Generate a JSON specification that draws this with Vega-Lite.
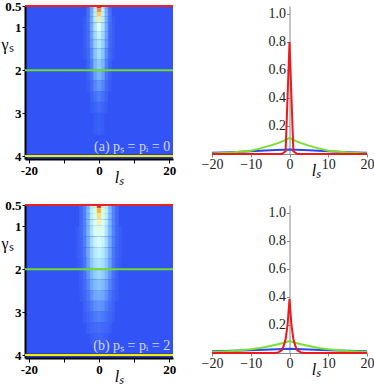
{
"$schema":"https://vega.github.io/schema/vega-lite/v6.json",
"padding":0,
"bounds":"flush",
"columns":2,
"spacing":{"row":46,"column":39},
"config":{"view":{"stroke":null},"font":"Liberation Serif","axis":{"grid":false,"labelOverlap":false,"labelBound":false}},
"resolve":{"scale":{"x":"independent","y":"independent","fill":"independent","stroke":"independent","color":"independent"}},
"datasets":{
"heatA":[
{"l0":-3.5,"l1":3.5,"g0":0.5,"g1":0.56,"v":0.12},{"l0":-2.5,"l1":2.5,"g0":0.5,"g1":0.56,"v":0.32},{"l0":-1.5,"l1":1.5,"g0":0.5,"g1":0.56,"v":0.5},{"l0":-0.5,"l1":0.5,"g0":0.5,"g1":0.56,"v":1},
{"l0":-3.5,"l1":3.5,"g0":0.56,"g1":0.65,"v":0.14},{"l0":-2.5,"l1":2.5,"g0":0.56,"g1":0.65,"v":0.32},{"l0":-1.5,"l1":1.5,"g0":0.56,"g1":0.65,"v":0.55},{"l0":-0.5,"l1":0.5,"g0":0.56,"g1":0.65,"v":0.92},
{"l0":-3.5,"l1":3.5,"g0":0.65,"g1":0.75,"v":0.14},{"l0":-2.5,"l1":2.5,"g0":0.65,"g1":0.75,"v":0.33},{"l0":-1.5,"l1":1.5,"g0":0.65,"g1":0.75,"v":0.55},{"l0":-0.5,"l1":0.5,"g0":0.65,"g1":0.75,"v":0.84},
{"l0":-4.5,"l1":4.5,"g0":0.75,"g1":0.9,"v":0.05},{"l0":-3.5,"l1":3.5,"g0":0.75,"g1":0.9,"v":0.14},{"l0":-2.5,"l1":2.5,"g0":0.75,"g1":0.9,"v":0.32},{"l0":-1.5,"l1":1.5,"g0":0.75,"g1":0.9,"v":0.54},{"l0":-0.5,"l1":0.5,"g0":0.75,"g1":0.9,"v":0.76},
{"l0":-4.5,"l1":4.5,"g0":0.9,"g1":1.1,"v":0.05},{"l0":-3.5,"l1":3.5,"g0":0.9,"g1":1.1,"v":0.13},{"l0":-2.5,"l1":2.5,"g0":0.9,"g1":1.1,"v":0.31},{"l0":-1.5,"l1":1.5,"g0":0.9,"g1":1.1,"v":0.5},{"l0":-0.5,"l1":0.5,"g0":0.9,"g1":1.1,"v":0.64},
{"l0":-4.5,"l1":4.5,"g0":1.1,"g1":1.3,"v":0.05},{"l0":-3.5,"l1":3.5,"g0":1.1,"g1":1.3,"v":0.12},{"l0":-2.5,"l1":2.5,"g0":1.1,"g1":1.3,"v":0.29},{"l0":-1.5,"l1":1.5,"g0":1.1,"g1":1.3,"v":0.46},{"l0":-0.5,"l1":0.5,"g0":1.1,"g1":1.3,"v":0.57},
{"l0":-4.5,"l1":4.5,"g0":1.3,"g1":1.5,"v":0.05},{"l0":-3.5,"l1":3.5,"g0":1.3,"g1":1.5,"v":0.12},{"l0":-2.5,"l1":2.5,"g0":1.3,"g1":1.5,"v":0.27},{"l0":-1.5,"l1":1.5,"g0":1.3,"g1":1.5,"v":0.43},{"l0":-0.5,"l1":0.5,"g0":1.3,"g1":1.5,"v":0.52},
{"l0":-4.5,"l1":4.5,"g0":1.5,"g1":1.75,"v":0.04},{"l0":-3.5,"l1":3.5,"g0":1.5,"g1":1.75,"v":0.1},{"l0":-2.5,"l1":2.5,"g0":1.5,"g1":1.75,"v":0.23},{"l0":-1.5,"l1":1.5,"g0":1.5,"g1":1.75,"v":0.39},{"l0":-0.5,"l1":0.5,"g0":1.5,"g1":1.75,"v":0.47},
{"l0":-3.5,"l1":3.5,"g0":1.75,"g1":2.0,"v":0.08},{"l0":-2.5,"l1":2.5,"g0":1.75,"g1":2.0,"v":0.19},{"l0":-1.5,"l1":1.5,"g0":1.75,"g1":2.0,"v":0.34},{"l0":-0.5,"l1":0.5,"g0":1.75,"g1":2.0,"v":0.41},
{"l0":-3.5,"l1":3.5,"g0":2.0,"g1":2.25,"v":0.06},{"l0":-2.5,"l1":2.5,"g0":2.0,"g1":2.25,"v":0.15},{"l0":-1.5,"l1":1.5,"g0":2.0,"g1":2.25,"v":0.28},{"l0":-0.5,"l1":0.5,"g0":2.0,"g1":2.25,"v":0.34},
{"l0":-3.5,"l1":3.5,"g0":2.25,"g1":2.5,"v":0.04},{"l0":-2.5,"l1":2.5,"g0":2.25,"g1":2.5,"v":0.11},{"l0":-1.5,"l1":1.5,"g0":2.25,"g1":2.5,"v":0.21},{"l0":-0.5,"l1":0.5,"g0":2.25,"g1":2.5,"v":0.26},
{"l0":-2.5,"l1":2.5,"g0":2.5,"g1":2.75,"v":0.07},{"l0":-1.5,"l1":1.5,"g0":2.5,"g1":2.75,"v":0.14},{"l0":-0.5,"l1":0.5,"g0":2.5,"g1":2.75,"v":0.18},
{"l0":-2.5,"l1":2.5,"g0":2.75,"g1":3.0,"v":0.04},{"l0":-1.5,"l1":1.5,"g0":2.75,"g1":3.0,"v":0.08},{"l0":-0.5,"l1":0.5,"g0":2.75,"g1":3.0,"v":0.11},
{"l0":-1.5,"l1":1.5,"g0":3.0,"g1":3.5,"v":0.04},{"l0":-0.5,"l1":0.5,"g0":3.0,"g1":3.5,"v":0.06}
],
"heatB":[
{"l0":-5.5,"l1":5.5,"g0":0.5,"g1":0.58,"v":0.1},{"l0":-4.5,"l1":4.5,"g0":0.5,"g1":0.58,"v":0.2},{"l0":-3.5,"l1":3.5,"g0":0.5,"g1":0.58,"v":0.36},{"l0":-2.5,"l1":2.5,"g0":0.5,"g1":0.58,"v":0.55},{"l0":-1.5,"l1":1.5,"g0":0.5,"g1":0.58,"v":0.72},{"l0":-0.5,"l1":0.5,"g0":0.5,"g1":0.58,"v":1},
{"l0":-5.5,"l1":5.5,"g0":0.58,"g1":0.7,"v":0.1},{"l0":-4.5,"l1":4.5,"g0":0.58,"g1":0.7,"v":0.2},{"l0":-3.5,"l1":3.5,"g0":0.58,"g1":0.7,"v":0.36},{"l0":-2.5,"l1":2.5,"g0":0.58,"g1":0.7,"v":0.55},{"l0":-1.5,"l1":1.5,"g0":0.58,"g1":0.7,"v":0.7},{"l0":-0.5,"l1":0.5,"g0":0.58,"g1":0.7,"v":0.88},
{"l0":-5.5,"l1":5.5,"g0":0.7,"g1":0.85,"v":0.1},{"l0":-4.5,"l1":4.5,"g0":0.7,"g1":0.85,"v":0.2},{"l0":-3.5,"l1":3.5,"g0":0.7,"g1":0.85,"v":0.35},{"l0":-2.5,"l1":2.5,"g0":0.7,"g1":0.85,"v":0.54},{"l0":-1.5,"l1":1.5,"g0":0.7,"g1":0.85,"v":0.69},{"l0":-0.5,"l1":0.5,"g0":0.7,"g1":0.85,"v":0.8},
{"l0":-5.5,"l1":5.5,"g0":0.85,"g1":1.0,"v":0.1},{"l0":-4.5,"l1":4.5,"g0":0.85,"g1":1.0,"v":0.2},{"l0":-3.5,"l1":3.5,"g0":0.85,"g1":1.0,"v":0.35},{"l0":-2.5,"l1":2.5,"g0":0.85,"g1":1.0,"v":0.53},{"l0":-1.5,"l1":1.5,"g0":0.85,"g1":1.0,"v":0.66},{"l0":-0.5,"l1":0.5,"g0":0.85,"g1":1.0,"v":0.74},
{"l0":-6.5,"l1":6.5,"g0":1.0,"g1":1.25,"v":0.04},{"l0":-5.5,"l1":5.5,"g0":1.0,"g1":1.25,"v":0.1},{"l0":-4.5,"l1":4.5,"g0":1.0,"g1":1.25,"v":0.2},{"l0":-3.5,"l1":3.5,"g0":1.0,"g1":1.25,"v":0.34},{"l0":-2.5,"l1":2.5,"g0":1.0,"g1":1.25,"v":0.5},{"l0":-1.5,"l1":1.5,"g0":1.0,"g1":1.25,"v":0.62},{"l0":-0.5,"l1":0.5,"g0":1.0,"g1":1.25,"v":0.68},
{"l0":-6.5,"l1":6.5,"g0":1.25,"g1":1.5,"v":0.04},{"l0":-5.5,"l1":5.5,"g0":1.25,"g1":1.5,"v":0.09},{"l0":-4.5,"l1":4.5,"g0":1.25,"g1":1.5,"v":0.19},{"l0":-3.5,"l1":3.5,"g0":1.25,"g1":1.5,"v":0.32},{"l0":-2.5,"l1":2.5,"g0":1.25,"g1":1.5,"v":0.47},{"l0":-1.5,"l1":1.5,"g0":1.25,"g1":1.5,"v":0.57},{"l0":-0.5,"l1":0.5,"g0":1.25,"g1":1.5,"v":0.62},
{"l0":-6.5,"l1":6.5,"g0":1.5,"g1":1.75,"v":0.04},{"l0":-5.5,"l1":5.5,"g0":1.5,"g1":1.75,"v":0.08},{"l0":-4.5,"l1":4.5,"g0":1.5,"g1":1.75,"v":0.17},{"l0":-3.5,"l1":3.5,"g0":1.5,"g1":1.75,"v":0.3},{"l0":-2.5,"l1":2.5,"g0":1.5,"g1":1.75,"v":0.43},{"l0":-1.5,"l1":1.5,"g0":1.5,"g1":1.75,"v":0.52},{"l0":-0.5,"l1":0.5,"g0":1.5,"g1":1.75,"v":0.56},
{"l0":-6.5,"l1":6.5,"g0":1.75,"g1":2.0,"v":0.03},{"l0":-5.5,"l1":5.5,"g0":1.75,"g1":2.0,"v":0.07},{"l0":-4.5,"l1":4.5,"g0":1.75,"g1":2.0,"v":0.16},{"l0":-3.5,"l1":3.5,"g0":1.75,"g1":2.0,"v":0.28},{"l0":-2.5,"l1":2.5,"g0":1.75,"g1":2.0,"v":0.4},{"l0":-1.5,"l1":1.5,"g0":1.75,"g1":2.0,"v":0.48},{"l0":-0.5,"l1":0.5,"g0":1.75,"g1":2.0,"v":0.51},
{"l0":-5.5,"l1":5.5,"g0":2.0,"g1":2.25,"v":0.06},{"l0":-4.5,"l1":4.5,"g0":2.0,"g1":2.25,"v":0.14},{"l0":-3.5,"l1":3.5,"g0":2.0,"g1":2.25,"v":0.24},{"l0":-2.5,"l1":2.5,"g0":2.0,"g1":2.25,"v":0.35},{"l0":-1.5,"l1":1.5,"g0":2.0,"g1":2.25,"v":0.42},{"l0":-0.5,"l1":0.5,"g0":2.0,"g1":2.25,"v":0.45},
{"l0":-5.5,"l1":5.5,"g0":2.25,"g1":2.5,"v":0.05},{"l0":-4.5,"l1":4.5,"g0":2.25,"g1":2.5,"v":0.12},{"l0":-3.5,"l1":3.5,"g0":2.25,"g1":2.5,"v":0.2},{"l0":-2.5,"l1":2.5,"g0":2.25,"g1":2.5,"v":0.3},{"l0":-1.5,"l1":1.5,"g0":2.25,"g1":2.5,"v":0.36},{"l0":-0.5,"l1":0.5,"g0":2.25,"g1":2.5,"v":0.39},
{"l0":-5.5,"l1":5.5,"g0":2.5,"g1":2.75,"v":0.04},{"l0":-4.5,"l1":4.5,"g0":2.5,"g1":2.75,"v":0.09},{"l0":-3.5,"l1":3.5,"g0":2.5,"g1":2.75,"v":0.16},{"l0":-2.5,"l1":2.5,"g0":2.5,"g1":2.75,"v":0.24},{"l0":-1.5,"l1":1.5,"g0":2.5,"g1":2.75,"v":0.3},{"l0":-0.5,"l1":0.5,"g0":2.5,"g1":2.75,"v":0.32},
{"l0":-4.5,"l1":4.5,"g0":2.75,"g1":3.0,"v":0.07},{"l0":-3.5,"l1":3.5,"g0":2.75,"g1":3.0,"v":0.12},{"l0":-2.5,"l1":2.5,"g0":2.75,"g1":3.0,"v":0.18},{"l0":-1.5,"l1":1.5,"g0":2.75,"g1":3.0,"v":0.23},{"l0":-0.5,"l1":0.5,"g0":2.75,"g1":3.0,"v":0.25},
{"l0":-4.5,"l1":4.5,"g0":3.0,"g1":3.25,"v":0.05},{"l0":-3.5,"l1":3.5,"g0":3.0,"g1":3.25,"v":0.09},{"l0":-2.5,"l1":2.5,"g0":3.0,"g1":3.25,"v":0.13},{"l0":-1.5,"l1":1.5,"g0":3.0,"g1":3.25,"v":0.17},{"l0":-0.5,"l1":0.5,"g0":3.0,"g1":3.25,"v":0.19},
{"l0":-3.5,"l1":3.5,"g0":3.25,"g1":3.5,"v":0.06},{"l0":-2.5,"l1":2.5,"g0":3.25,"g1":3.5,"v":0.09},{"l0":-1.5,"l1":1.5,"g0":3.25,"g1":3.5,"v":0.11},{"l0":-0.5,"l1":0.5,"g0":3.25,"g1":3.5,"v":0.13},
{"l0":-2.5,"l1":2.5,"g0":3.5,"g1":3.75,"v":0.05},{"l0":-1.5,"l1":1.5,"g0":3.5,"g1":3.75,"v":0.07},{"l0":-0.5,"l1":0.5,"g0":3.5,"g1":3.75,"v":0.08},
{"l0":-1.5,"l1":1.5,"g0":3.75,"g1":4.0,"v":0.03},{"l0":-0.5,"l1":0.5,"g0":3.75,"g1":4.0,"v":0.04}
],
"levels":[{"g":0.5},{"g":2},{"g":4}],
"linesA":[
{"s":"4","l":-20,"y":0.009},{"s":"4","l":-15,"y":0.013},{"s":"4","l":-10,"y":0.019},{"s":"4","l":-5,"y":0.026},{"s":"4","l":0,"y":0.032},{"s":"4","l":5,"y":0.026},{"s":"4","l":10,"y":0.019},{"s":"4","l":15,"y":0.013},{"s":"4","l":20,"y":0.009},
{"s":"2","l":-20,"y":0.003},{"s":"2","l":-15,"y":0.01},{"s":"2","l":-10,"y":0.024},{"s":"2","l":-7.5,"y":0.04},{"s":"2","l":-5,"y":0.06},{"s":"2","l":-3,"y":0.078},{"s":"2","l":-2,"y":0.088},{"s":"2","l":-1,"y":0.1},{"s":"2","l":0,"y":0.115},{"s":"2","l":1,"y":0.1},{"s":"2","l":2,"y":0.088},{"s":"2","l":3,"y":0.078},{"s":"2","l":5,"y":0.06},{"s":"2","l":7.5,"y":0.04},{"s":"2","l":10,"y":0.024},{"s":"2","l":15,"y":0.01},{"s":"2","l":20,"y":0.003},
{"s":"0.5","l":-20,"y":0},{"s":"0.5","l":-2,"y":0},{"s":"0.5","l":-1,"y":0.02},{"s":"0.5","l":0,"y":0.8},{"s":"0.5","l":1,"y":0.02},{"s":"0.5","l":2,"y":0},{"s":"0.5","l":20,"y":0}
],
"linesB":[
{"s":"4","l":-20,"y":0.012},{"s":"4","l":-15,"y":0.016},{"s":"4","l":-10,"y":0.02},{"s":"4","l":-5,"y":0.025},{"s":"4","l":0,"y":0.03},{"s":"4","l":5,"y":0.025},{"s":"4","l":10,"y":0.02},{"s":"4","l":15,"y":0.016},{"s":"4","l":20,"y":0.012},
{"s":"2","l":-20,"y":0.007},{"s":"2","l":-15,"y":0.014},{"s":"2","l":-10,"y":0.026},{"s":"2","l":-7.5,"y":0.036},{"s":"2","l":-5,"y":0.05},{"s":"2","l":-3,"y":0.062},{"s":"2","l":-2,"y":0.069},{"s":"2","l":-1,"y":0.077},{"s":"2","l":0,"y":0.086},{"s":"2","l":1,"y":0.077},{"s":"2","l":2,"y":0.069},{"s":"2","l":3,"y":0.062},{"s":"2","l":5,"y":0.05},{"s":"2","l":7.5,"y":0.036},{"s":"2","l":10,"y":0.026},{"s":"2","l":15,"y":0.014},{"s":"2","l":20,"y":0.007},
{"s":"0.5","l":-20,"y":0},{"s":"0.5","l":-4,"y":0},{"s":"0.5","l":-3,"y":0.003},{"s":"0.5","l":-2,"y":0.02},{"s":"0.5","l":-1.5,"y":0.05},{"s":"0.5","l":-1,"y":0.1},{"s":"0.5","l":-0.5,"y":0.2},{"s":"0.5","l":0,"y":0.385},{"s":"0.5","l":0.5,"y":0.2},{"s":"0.5","l":1,"y":0.1},{"s":"0.5","l":1.5,"y":0.05},{"s":"0.5","l":2,"y":0.02},{"s":"0.5","l":3,"y":0.003},{"s":"0.5","l":4,"y":0},{"s":"0.5","l":20,"y":0}
]
},
"concat":[
{
"width":148,"height":153,
"view":{"fill":"#3253f5","stroke":null},
"layer":[
{"data":{"name":"heatA"},"mark":{"type":"rect","strokeWidth":0.7},
"encoding":{
"x":{"field":"l0","type":"quantitative","scale":{"domain":[-21.1,21.1],"nice":false,"zero":false},
"axis":{"values":[-20,-10,0,10,20],"labelExpr":"datum.value % 20 == 0 ? '' + datum.value : ''","labelFlush":false,"labelOverlap":false,"labelFont":"Liberation Serif","titleFont":"Liberation Serif","tickSize":4,"tickColor":"#000","domainColor":"#000","domainWidth":2,"labelFontSize":13,"labelFontWeight":"bold","labelColor":"#000","labelPadding":1,"title":"lₛ","titleFontStyle":"italic","titleFontWeight":"normal","titleFontSize":16,"titleX":94,"titleY":18,"titleBaseline":"middle"}},
"x2":{"field":"l1"},
"y":{"field":"g0","type":"quantitative","scale":{"domain":[0.5,4.07],"nice":false,"zero":false,"reverse":true},
"axis":{"values":[0.5,1,2,3,4],"format":"~g","labelOverlap":false,"labelFont":"Liberation Serif","titleFont":"Liberation Serif","tickSize":3,"tickColor":"#000","domainColor":"#000","domainWidth":2,"labelFontSize":13,"labelFontWeight":"bold","labelColor":"#000","labelPadding":1,"title":"γₛ","titleAngle":0,"titleX":-18,"titleY":38,"titleAlign":"center","titleBaseline":"middle","titleFontSize":16,"titleFontWeight":"normal"}},
"y2":{"field":"g1"},
"fill":{"field":"v","type":"quantitative","legend":null,"scale":{"domain":[0,0.15,0.3,0.45,0.55,0.65,0.75,0.85,0.93,1],"range":["#3253f5","#4a72f8","#72a6fc","#a0d6ff","#bff0ff","#e8fffa","#fff0a0","#ffc850","#f88030","#e02818"]}},
"stroke":{"field":"v","type":"quantitative","legend":null,"scale":{"domain":[0,0.15,0.3,0.45,0.55,0.65,0.75,0.85,0.93,1],"range":["#3253f5","#4a72f8","#72a6fc","#a0d6ff","#bff0ff","#e8fffa","#fff0a0","#ffc850","#f88030","#e02818"]}}
}},
{"data":{"values":[{"g":4}]},"mark":{"type":"rule","strokeWidth":3,"color":"#22307a"},"encoding":{"y":{"field":"g","type":"quantitative",
"axis":{"values":[0.5,1,2,3,4],"format":"~g","labelOverlap":false,"labelFont":"Liberation Serif","titleFont":"Liberation Serif","tickSize":3,"tickColor":"#000","domainColor":"#000","domainWidth":2,"labelFontSize":13,"labelFontWeight":"bold","labelColor":"#000","labelPadding":1,"title":"γₛ","titleAngle":0,"titleX":-18,"titleY":38,"titleAlign":"center","titleBaseline":"middle","titleFontSize":16,"titleFontWeight":"normal"}}}},
{"data":{"name":"levels"},"mark":{"type":"rule","strokeWidth":2},
"encoding":{"y":{"field":"g","type":"quantitative",
"axis":{"values":[0.5,1,2,3,4],"format":"~g","labelOverlap":false,"labelFont":"Liberation Serif","titleFont":"Liberation Serif","tickSize":3,"tickColor":"#000","domainColor":"#000","domainWidth":2,"labelFontSize":13,"labelFontWeight":"bold","labelColor":"#000","labelPadding":1,"title":"γₛ","titleAngle":0,"titleX":-18,"titleY":38,"titleAlign":"center","titleBaseline":"middle","titleFontSize":16,"titleFontWeight":"normal"}},
"color":{"field":"g","type":"nominal","legend":null,"scale":{"domain":[0.5,2,4],"range":["#f02020","#6edd28","#f5ee00"]}}}},
{"data":{"values":[{"l":20.3,"g":3.78,"t":"(a) pₛ = pᵢ = 0"}]},"mark":{"type":"text","align":"right","baseline":"middle","fontSize":14,"font":"Liberation Serif","color":"#d4d8ff"},
"encoding":{"x":{"field":"l","type":"quantitative",
"axis":{"values":[-20,-10,0,10,20],"labelExpr":"datum.value % 20 == 0 ? '' + datum.value : ''","labelFlush":false,"labelOverlap":false,"labelFont":"Liberation Serif","titleFont":"Liberation Serif","tickSize":4,"tickColor":"#000","domainColor":"#000","domainWidth":2,"labelFontSize":13,"labelFontWeight":"bold","labelColor":"#000","labelPadding":1,"title":"lₛ","titleFontStyle":"italic","titleFontWeight":"normal","titleFontSize":16,"titleX":94,"titleY":18,"titleBaseline":"middle"}},
"y":{"field":"g","type":"quantitative",
"axis":{"values":[0.5,1,2,3,4],"format":"~g","labelOverlap":false,"labelFont":"Liberation Serif","titleFont":"Liberation Serif","tickSize":3,"tickColor":"#000","domainColor":"#000","domainWidth":2,"labelFontSize":13,"labelFontWeight":"bold","labelColor":"#000","labelPadding":1,"title":"γₛ","titleAngle":0,"titleX":-18,"titleY":38,"titleAlign":"center","titleBaseline":"middle","titleFontSize":16,"titleFontWeight":"normal"}},
"text":{"field":"t"}}}
]
},
{
"width":155,"height":148,
"data":{"name":"linesA"},
"mark":{"type":"line","strokeWidth":2},
"encoding":{
"x":{"field":"l","type":"quantitative","scale":{"domain":[-20,20],"nice":false,"zero":false},
"axis":{"values":[-20,-10,0,10,20],"format":"d","labelFlush":false,"labelOverlap":false,"labelFont":"Liberation Serif","titleFont":"Liberation Serif","tickSize":3,"tickColor":"#888","domainColor":"#888","labelFontSize":14,"labelColor":"#222","labelPadding":0,"title":"lₛ","titleFontStyle":"italic","titleFontWeight":"normal","titleFontSize":16,"titleX":104,"titleY":16,"titleBaseline":"middle"}},
"y":{"field":"y","type":"quantitative","scale":{"domain":[0,1.057],"nice":false},
"axis":{"offset":-77.5,"values":[0.2,0.4,0.6,0.8,1.0],"format":".1f","labelOverlap":false,"labelFont":"Liberation Serif","tickSize":3,"tickColor":"#888","domainColor":"#888","labelFontSize":14,"labelColor":"#222","labelPadding":1,"title":null}},
"color":{"field":"s","type":"nominal","legend":null,"sort":null,"scale":{"domain":["4","2","0.5"],"range":["#2a48f0","#78e030","#f01818"]}}
}
},
{
"width":148,"height":153,
"view":{"fill":"#3253f5","stroke":null},
"layer":[
{"data":{"name":"heatB"},"mark":{"type":"rect","strokeWidth":0.7},
"encoding":{
"x":{"field":"l0","type":"quantitative","scale":{"domain":[-21.1,21.1],"nice":false,"zero":false},
"axis":{"values":[-20,-10,0,10,20],"labelExpr":"datum.value % 20 == 0 ? '' + datum.value : ''","labelFlush":false,"labelOverlap":false,"labelFont":"Liberation Serif","titleFont":"Liberation Serif","tickSize":4,"tickColor":"#000","domainColor":"#000","domainWidth":2,"labelFontSize":13,"labelFontWeight":"bold","labelColor":"#000","labelPadding":1,"title":"lₛ","titleFontStyle":"italic","titleFontWeight":"normal","titleFontSize":16,"titleX":94,"titleY":18,"titleBaseline":"middle"}},
"x2":{"field":"l1"},
"y":{"field":"g0","type":"quantitative","scale":{"domain":[0.5,4.07],"nice":false,"zero":false,"reverse":true},
"axis":{"values":[0.5,1,2,3,4],"format":"~g","labelOverlap":false,"labelFont":"Liberation Serif","titleFont":"Liberation Serif","tickSize":3,"tickColor":"#000","domainColor":"#000","domainWidth":2,"labelFontSize":13,"labelFontWeight":"bold","labelColor":"#000","labelPadding":1,"title":"γₛ","titleAngle":0,"titleX":-18,"titleY":38,"titleAlign":"center","titleBaseline":"middle","titleFontSize":16,"titleFontWeight":"normal"}},
"y2":{"field":"g1"},
"fill":{"field":"v","type":"quantitative","legend":null,"scale":{"domain":[0,0.15,0.3,0.45,0.55,0.65,0.75,0.85,0.93,1],"range":["#3253f5","#4a72f8","#72a6fc","#a0d6ff","#bff0ff","#e8fffa","#fff0a0","#ffc850","#f88030","#e02818"]}},
"stroke":{"field":"v","type":"quantitative","legend":null,"scale":{"domain":[0,0.15,0.3,0.45,0.55,0.65,0.75,0.85,0.93,1],"range":["#3253f5","#4a72f8","#72a6fc","#a0d6ff","#bff0ff","#e8fffa","#fff0a0","#ffc850","#f88030","#e02818"]}}
}},
{"data":{"values":[{"g":4}]},"mark":{"type":"rule","strokeWidth":3,"color":"#22307a"},"encoding":{"y":{"field":"g","type":"quantitative",
"axis":{"values":[0.5,1,2,3,4],"format":"~g","labelOverlap":false,"labelFont":"Liberation Serif","titleFont":"Liberation Serif","tickSize":3,"tickColor":"#000","domainColor":"#000","domainWidth":2,"labelFontSize":13,"labelFontWeight":"bold","labelColor":"#000","labelPadding":1,"title":"γₛ","titleAngle":0,"titleX":-18,"titleY":38,"titleAlign":"center","titleBaseline":"middle","titleFontSize":16,"titleFontWeight":"normal"}}}},
{"data":{"name":"levels"},"mark":{"type":"rule","strokeWidth":2},
"encoding":{"y":{"field":"g","type":"quantitative",
"axis":{"values":[0.5,1,2,3,4],"format":"~g","labelOverlap":false,"labelFont":"Liberation Serif","titleFont":"Liberation Serif","tickSize":3,"tickColor":"#000","domainColor":"#000","domainWidth":2,"labelFontSize":13,"labelFontWeight":"bold","labelColor":"#000","labelPadding":1,"title":"γₛ","titleAngle":0,"titleX":-18,"titleY":38,"titleAlign":"center","titleBaseline":"middle","titleFontSize":16,"titleFontWeight":"normal"}},
"color":{"field":"g","type":"nominal","legend":null,"scale":{"domain":[0.5,2,4],"range":["#f02020","#6edd28","#f5ee00"]}}}},
{"data":{"values":[{"l":20.3,"g":3.78,"t":"(b) pₛ = pᵢ = 2"}]},"mark":{"type":"text","align":"right","baseline":"middle","fontSize":14,"font":"Liberation Serif","color":"#d4d8ff"},
"encoding":{"x":{"field":"l","type":"quantitative",
"axis":{"values":[-20,-10,0,10,20],"labelExpr":"datum.value % 20 == 0 ? '' + datum.value : ''","labelFlush":false,"labelOverlap":false,"labelFont":"Liberation Serif","titleFont":"Liberation Serif","tickSize":4,"tickColor":"#000","domainColor":"#000","domainWidth":2,"labelFontSize":13,"labelFontWeight":"bold","labelColor":"#000","labelPadding":1,"title":"lₛ","titleFontStyle":"italic","titleFontWeight":"normal","titleFontSize":16,"titleX":94,"titleY":18,"titleBaseline":"middle"}},
"y":{"field":"g","type":"quantitative",
"axis":{"values":[0.5,1,2,3,4],"format":"~g","labelOverlap":false,"labelFont":"Liberation Serif","titleFont":"Liberation Serif","tickSize":3,"tickColor":"#000","domainColor":"#000","domainWidth":2,"labelFontSize":13,"labelFontWeight":"bold","labelColor":"#000","labelPadding":1,"title":"γₛ","titleAngle":0,"titleX":-18,"titleY":38,"titleAlign":"center","titleBaseline":"middle","titleFontSize":16,"titleFontWeight":"normal"}},
"text":{"field":"t"}}}
]
},
{
"width":155,"height":148,
"data":{"name":"linesB"},
"mark":{"type":"line","strokeWidth":2},
"encoding":{
"x":{"field":"l","type":"quantitative","scale":{"domain":[-20,20],"nice":false,"zero":false},
"axis":{"values":[-20,-10,0,10,20],"format":"d","labelFlush":false,"labelOverlap":false,"labelFont":"Liberation Serif","titleFont":"Liberation Serif","tickSize":3,"tickColor":"#888","domainColor":"#888","labelFontSize":14,"labelColor":"#222","labelPadding":0,"title":"lₛ","titleFontStyle":"italic","titleFontWeight":"normal","titleFontSize":16,"titleX":104,"titleY":16,"titleBaseline":"middle"}},
"y":{"field":"y","type":"quantitative","scale":{"domain":[0,1.057],"nice":false},
"axis":{"offset":-77.5,"values":[0.2,0.4,0.6,0.8,1.0],"format":".1f","labelOverlap":false,"labelFont":"Liberation Serif","tickSize":3,"tickColor":"#888","domainColor":"#888","labelFontSize":14,"labelColor":"#222","labelPadding":1,"title":null}},
"color":{"field":"s","type":"nominal","legend":null,"sort":null,"scale":{"domain":["4","2","0.5"],"range":["#2a48f0","#78e030","#f01818"]}}
}
}
]
}
